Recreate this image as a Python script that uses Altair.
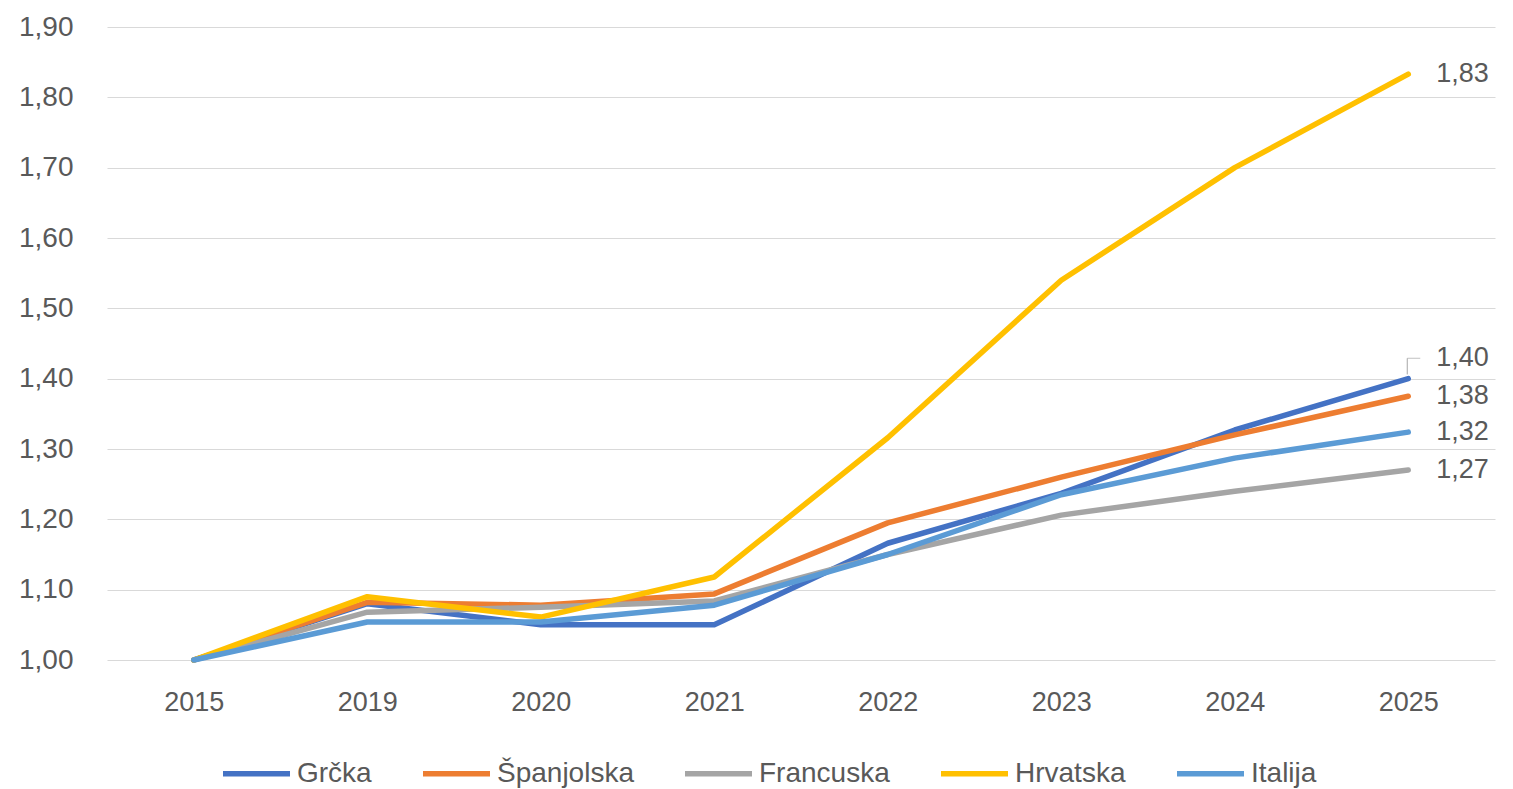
import altair as alt
import pandas as pd

years = ["2015", "2019", "2020", "2021", "2022", "2023", "2024", "2025"]
countries = ["Grčka", "Španjolska", "Francuska", "Hrvatska", "Italija"]
colors = ["#4472C4", "#ED7D31", "#A5A5A5", "#FFC000", "#5B9BD5"]

grcka = [1.00, 1.08, 1.05, 1.05, 1.166, 1.237, 1.327, 1.40]
spanjolska = [1.00, 1.082, 1.078, 1.094, 1.195, 1.26, 1.32, 1.375]
francuska = [1.00, 1.068, 1.075, 1.084, 1.15, 1.206, 1.24, 1.27]
hrvatska = [1.00, 1.09, 1.061, 1.118, 1.316, 1.54, 1.70, 1.833]
italija = [1.00, 1.054, 1.054, 1.078, 1.15, 1.235, 1.287, 1.324]

series = [grcka, spanjolska, francuska, hrvatska, italija]
rows = []
for i, (name, vals) in enumerate(zip(countries, series)):
    for yr, v in zip(years, vals):
        rows.append({"godina": yr, "zemlja": name, "indeks": v, "ord": i})
df = pd.DataFrame(rows)

end_df = df[df["godina"] == "2025"].copy()
end_df["oznaka"] = end_df["indeks"].map(lambda v: f"{v:.2f}".replace(".", ","))
raised = end_df[end_df["zemlja"] == "Grčka"]
plain = end_df[end_df["zemlja"] != "Grčka"]

FONT = "Liberation Sans"
TXT = "#595959"
LEAD = "#A6A6A6"

x_scale = alt.Scale(type="point", domain=years, padding=0.5)

x_enc = alt.X(
    "godina:N",
    scale=x_scale,
    axis=alt.Axis(
        title=None, labelAngle=0, domain=False, ticks=False, grid=False,
        labelPadding=29, labelFontSize=27, labelColor=TXT, labelFont=FONT,
    ),
)
y_enc = alt.Y(
    "indeks:Q",
    scale=alt.Scale(domain=[1.0, 1.9], nice=False, zero=False),
    axis=alt.Axis(
        title=None, values=[1.0, 1.1, 1.2, 1.3, 1.4, 1.5, 1.6, 1.7, 1.8, 1.9],
        labelExpr="replace(format(datum.value, '.2f'), '.', ',')",
        domain=False, ticks=False, grid=True, gridColor="#D9D9D9", gridWidth=1,
        labelPadding=34, labelFontSize=28, labelColor=TXT, labelFont=FONT,
    ),
)

lines = alt.Chart(df).mark_line(strokeWidth=5.5, strokeCap="round", strokeJoin="round").encode(
    x=x_enc,
    y=y_enc,
    color=alt.Color(
        "zemlja:N",
        scale=alt.Scale(domain=countries, range=colors),
        legend=alt.Legend(
            title=None, orient="none", direction="horizontal",
            legendX=113, legendY=710,
            symbolType="stroke", symbolStrokeWidth=5.5, symbolSize=4489,
            labelFontSize=28, labelColor=TXT, labelFont=FONT,
            columnPadding=40, labelOffset=4,
        ),
    ),
    order=alt.Order("ord:Q"),
)

labels = alt.Chart(plain).mark_text(
    align="left", baseline="middle", dx=28, fontSize=27, font=FONT, color=TXT
).encode(x=alt.X("godina:N", scale=x_scale), y=alt.Y("indeks:Q"), text="oznaka:N")

labels_raised = alt.Chart(raised).mark_text(
    align="left", baseline="middle", dx=28, dy=-21, fontSize=27, font=FONT, color=TXT
).encode(x=alt.X("godina:N", scale=x_scale), y=alt.Y("indeks:Q"), text="oznaka:N")

# small leader line from the end of the Grčka line up to its raised label
leader_v = alt.Chart(raised).mark_rule(xOffset=-1, color=LEAD, strokeWidth=1).encode(
    x=alt.X("godina:N", scale=x_scale),
    y=alt.Y("low:Q"),
    y2=alt.Y2("top:Q"),
).transform_calculate(low="datum.indeks + 0.006", top="datum.indeks + 0.029")

leader_h = alt.Chart(raised).mark_tick(
    orient="horizontal", size=13, thickness=1, xOffset=5.5, color=LEAD
).encode(
    x=alt.X("godina:N", scale=x_scale),
    y=alt.Y("top:Q"),
).transform_calculate(top="datum.indeks + 0.029")

chart = alt.layer(lines, labels, labels_raised, leader_v, leader_h).properties(
    width=1388,
    height=633,
    background="white",
    autosize=alt.AutoSizeParams(type="none"),
    padding={"left": 107, "top": 27, "right": 18, "bottom": 129},
).configure_view(strokeWidth=0)

chart.save("out.html", embed_options={"renderer": "svg", "actions": False})
